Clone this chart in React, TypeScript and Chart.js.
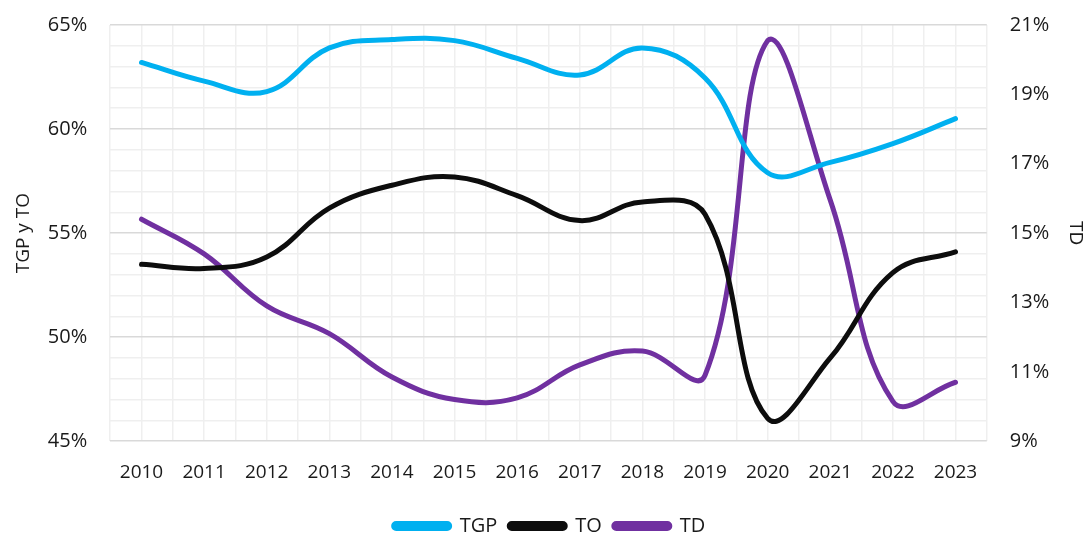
import React, { useEffect, useRef } from "react";
import { Chart, registerables } from "chart.js";

Chart.register(...registerables);

const years = ["2010", "2011", "2012", "2013", "2014", "2015", "2016", "2017", "2018", "2019", "2020", "2021", "2022", "2023"];
const tgp = [63.2, 62.3, 61.8, 63.9, 64.3, 64.25, 63.4, 62.6, 63.9, 62.45, 57.9, 58.4, 59.3, 60.5];
const to = [53.5, 53.3, 53.85, 56.2, 57.3, 57.7, 56.8, 55.6, 56.5, 55.9, 46.1, 49.0, 53.1, 54.1];
const td = [15.4, 14.4, 12.9, 12.1, 10.85, 10.2, 10.25, 11.2, 11.6, 10.9, 20.55, 15.95, 10.15, 10.7];
const leftTicks = [45, 50, 55, 60, 65];
const rightTicks = [9, 11, 13, 15, 17, 19, 21];

const FONT = "'Open Sans', 'Noto Sans', sans-serif";

export default function App() {
  const ref = useRef<HTMLCanvasElement | null>(null);
  useEffect(() => {
    if (!ref.current) return;
    const toPts = (arr: number[]) => arr.map((v, i) => ({ x: i, y: v }));
    const trimPad = (s: any) => {
      s.paddingTop = 1;
      s.paddingBottom = 1;
    };
    const chart = new Chart(ref.current, {
      type: "line",
      data: {
        datasets: [
          { label: "TGP", data: toPts(tgp), borderColor: "#00B0F0", backgroundColor: "#00B0F0", borderWidth: 5, pointRadius: 0, tension: 0.4, yAxisID: "y", borderCapStyle: "round" },
          { label: "TO", data: toPts(to), borderColor: "#0D0D0D", backgroundColor: "#0D0D0D", borderWidth: 5, pointRadius: 0, tension: 0.4, yAxisID: "y", borderCapStyle: "round" },
          { label: "TD", data: toPts(td), borderColor: "#7030A0", backgroundColor: "#7030A0", borderWidth: 5, pointRadius: 0, tension: 0.4, yAxisID: "y1", borderCapStyle: "round" },
        ],
      },
      options: {
        animation: false,
        responsive: true,
        maintainAspectRatio: false,
        layout: { padding: { top: 25, left: 12, right: -2, bottom: -13 } },
        plugins: {
          tooltip: { enabled: false },
          legend: {
            position: "bottom",
            labels: {
              boxWidth: 56,
              boxHeight: 5,
              useBorderRadius: true,
              borderRadius: 2.5,
              padding: 12,
              color: "#1a1a1a",
              font: { family: FONT, size: 20 },
            },
          },
        },
        scales: {
          x: {
            type: "linear",
            min: -0.5,
            max: years.length - 0.5,
            ticks: {
              stepSize: 0.5,
              maxTicksLimit: 100,
              autoSkip: false,
              maxRotation: 0,
              padding: 20,
              color: "#1a1a1a",
              font: { family: FONT, size: 19 },
              callback: (v: any) => (Number.isInteger(v) && v >= 0 && v < years.length ? years[v] : ""),
            },
            grid: { color: "#efefef", lineWidth: 1.5, drawTicks: false },
            border: { display: false },
          },
          y: {
            position: "left",
            min: leftTicks[0],
            max: leftTicks[leftTicks.length - 1],
            afterFit: trimPad,
            ticks: {
              stepSize: 1,
              autoSkip: false,
              padding: 23,
              color: "#1a1a1a",
              font: { family: FONT, size: 20 },
              callback: (v: any) => (leftTicks.includes(v) ? v + "%" : ""),
            },
            grid: {
              color: (c: any) => (c.tick && leftTicks.includes(c.tick.value) ? "#d9d9d9" : "#efefef"),
              lineWidth: 1.5,
              drawTicks: false,
            },
            border: { display: false },
            title: { display: true, text: "TGP y TO", color: "#1a1a1a", font: { family: FONT, size: 19 }, padding: { top: 0, bottom: -10 } },
          },
          y1: {
            position: "right",
            min: rightTicks[0],
            max: rightTicks[rightTicks.length - 1],
            afterFit: trimPad,
            ticks: {
              stepSize: 2,
              autoSkip: false,
              padding: 23,
              color: "#1a1a1a",
              font: { family: FONT, size: 20 },
              callback: (v: any) => v + "%",
            },
            grid: { display: false, drawTicks: false },
            border: { display: false },
            title: { display: true, text: "TD", color: "#1a1a1a", font: { family: FONT, size: 19 }, padding: { top: 0, bottom: -8 } },
          },
        },
      },
    } as any);
    return () => chart.destroy();
  }, []);
  return (
    <div style={{ position: "fixed", left: 0, top: 0, width: 1085, height: 533, background: "#fff" }}>
      <canvas ref={ref} />
    </div>
  );
}
